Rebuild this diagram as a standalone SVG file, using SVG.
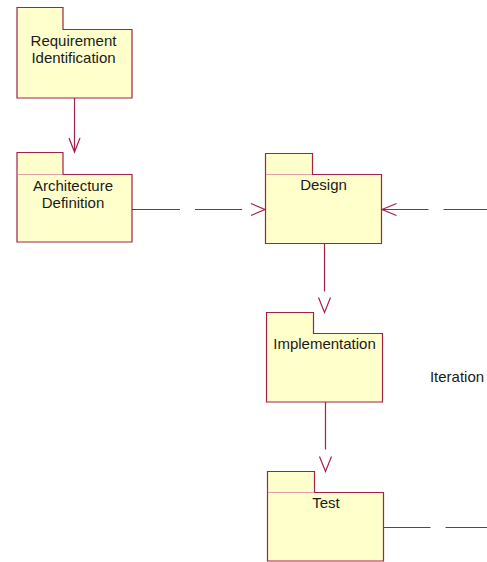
<svg xmlns="http://www.w3.org/2000/svg" width="487" height="562" viewBox="0 0 487 562">
<style>
.pk{fill:#FFFFCC;stroke:#A3204A;stroke-width:1.2}
.sep{stroke:#E0A0A8;stroke-width:1;fill:none}
.t{font-family:"Liberation Sans",Arial,sans-serif;font-size:15px;fill:#1a1a1a;text-anchor:middle}
.c{stroke:#A3204A;stroke-width:1.2;fill:none}
</style>
<rect width="487" height="562" fill="#FFFFFF"/>
<g id="req">
<path class="pk" d="M17 7.5 H63 V29.5 H132 V98 H17 Z"/>
<text class="t" x="73.5" y="46">Requirement</text>
<text class="t" x="73.5" y="63">Identification</text>
</g>
<g id="arch">
<path class="pk" d="M17 152.5 H63 V174.5 H132 V242 H17 Z"/>
<line class="sep" x1="17.6" y1="174.5" x2="62.4" y2="174.5"/>
<text class="t" x="73" y="190.5">Architecture</text>
<text class="t" x="73" y="207.5">Definition</text>
</g>
<g id="design">
<path class="pk" d="M265.5 153.5 H312.5 V174.5 H381.5 V243.5 H265.5 Z"/>
<line class="sep" x1="266.1" y1="174.5" x2="311.9" y2="174.5"/>
<text class="t" x="323.5" y="190">Design</text>
</g>
<g id="impl">
<path class="pk" d="M266.5 312.5 H313.5 V333.5 H382.5 V402 H266.5 Z"/>
<text class="t" x="324.5" y="349">Implementation</text>
</g>
<g id="test">
<path class="pk" d="M267.5 471.5 H314.5 V492.5 H383.5 V561 H267.5 Z"/>
<line class="sep" x1="268.1" y1="492.5" x2="313.9" y2="492.5"/>
<text class="t" x="326" y="508">Test</text>
</g>
<g id="iteration">
<text class="t" x="457" y="382">Iteration</text>
</g>
<g id="connectors">
<path class="c" d="M74.5 98 V152 M69 138 L74.5 152 L80 138"/>
<path class="c" d="M132 209.5 H180 M195 209.5 H242 M251 203.5 L265 209.5 L251 215.5"/>
<path class="c" d="M487 209.5 H443.5 M428.5 209.5 H382 M396.5 203.5 L382 209.5 L396.5 215.5"/>
<path class="c" d="M324.5 244 V291.5 M318.5 297.5 L324.5 312.5 L330.5 297.5"/>
<path class="c" d="M325.5 402 V449.5 M319.5 456.5 L325.5 471.5 L331.5 456.5"/>
<path class="c" d="M383.5 527.5 H430.5 M445.5 527.5 H487"/>
</g>
</svg>
